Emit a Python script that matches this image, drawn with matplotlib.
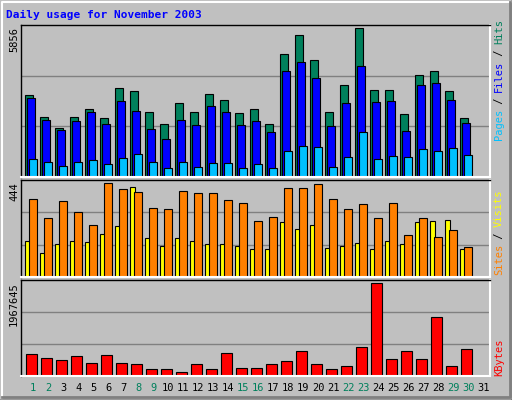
import matplotlib
matplotlib.use("Agg")
import matplotlib.pyplot as plt
import numpy as np
from matplotlib.lines import Line2D

days = list(range(1, 32))
weekend = [1, 2, 8, 9, 15, 16, 22, 23, 29, 30]
hits = [3222, 2383, 1944, 2383, 2663, 2343, 3501, 3381, 2543, 2104, 2902, 2543, 3261, 3022, 2503,
        2663, 2104, 4858, 5577, 4619, 2543, 3621, 5856, 3421, 3421, 2463, 4020, 4180, 3381, 2343]
files = [3102, 2263, 1864, 2224, 2543, 2104, 2982, 2583, 1904, 1505, 2263, 2064, 2782, 2543, 2064,
         2224, 1784, 4180, 4539, 3900, 2024, 2902, 4379, 2942, 2982, 1824, 3621, 3701, 3022, 2144]
pages = [707, 587, 427, 587, 667, 507, 747, 906, 587, 347, 587, 387, 547, 547, 347,
         507, 347, 1026, 1226, 1186, 387, 786, 1784, 707, 826, 786, 1106, 1026, 1146, 866]
sites = [371, 279, 362, 308, 245, 444, 415, 405, 328, 323, 410, 400, 396, 367, 352,
         265, 284, 420, 420, 439, 371, 323, 347, 279, 352, 197, 279, 192, 221, 144]
visits = [173, 115, 158, 173, 168, 202, 241, 429, 187, 149, 187, 173, 158, 158, 149,
          134, 134, 260, 226, 245, 139, 149, 163, 134, 173, 158, 260, 265, 270, 134]
kbytes = [475684, 389196, 345952, 432440, 281086, 454062, 281086, 259464, 151354, 151354,
          86488, 259464, 151354, 497306, 172976, 172976, 259464, 324330, 518928, 259464,
          151354, 216220, 605416, 1967645, 367574, 518928, 367574, 1254076, 216220, 562172]

W, H = 512, 400
fig = plt.figure(figsize=(W/100, H/100), dpi=100, facecolor="#C0C0C0")
mono = "DejaVu Sans Mono"

# bevel frame
fig.add_artist(Line2D([0, 1, 1], [0.5/H, 0.5/H, 1], transform=fig.transFigure, color="black", lw=1))
fig.add_artist(Line2D([1.5/W, 1.5/W, 1 - 1.5/W], [2/H, 1 - 1.5/H, 1 - 1.5/H], transform=fig.transFigure, color="white", lw=1.5))
fig.add_artist(Line2D([2/W, 1 - 2/W, 1 - 2/W], [3/H, 3/H, 1 - 2/H], transform=fig.transFigure, color="#808080", lw=2))

fig.text(6/W, 1 - 15/H, "Daily usage for November 2003", color="#0000FF", fontsize=8,
         fontweight="bold", family=mono, va="center", ha="left")

x0 = 0.733
x1 = x0 + 469/15
d = np.arange(1, len(hits) + 1)

def panel(top_px, bot_px):
    ax = fig.add_axes([21/W, 1 - bot_px/H, 469/W, (bot_px - top_px)/H])
    ax.set_facecolor("#C0C0C0")
    ax.set_xlim(x0, x1)
    ax.set_xticks([]); ax.set_yticks([])
    for s in ax.spines.values():
        s.set_color("black"); s.set_linewidth(1)
    ax.spines["right"].set_color("white"); ax.spines["bottom"].set_color("white")
    ax.spines["right"].set_linewidth(1.5); ax.spines["bottom"].set_linewidth(1.5)
    return ax

kw = dict(edgecolor="black", linewidth=0.8, align="edge")

ax1 = panel(25, 177)
top1 = 5856 * 150 / 146.7
ax1.set_ylim(0, top1)
for g in (top1/3, 2*top1/3):
    ax1.axhline(g, color="#808080", lw=1, zorder=0)
ax1.bar(d, hits, width=0.5, color="#00805C", **kw)
ax1.bar(d + 0.15, files, width=0.49, color="#0000FF", **kw)
ax1.bar(d + 0.29, pages, width=0.49, color="#00C0FF", **kw)

ax2 = panel(180, 277)
top2 = 444 * 95 / 91.7
ax2.set_ylim(0, top2)
for g in (top2/3, 2*top2/3):
    ax2.axhline(g, color="#808080", lw=1, zorder=0)
ax2.bar(d, visits, width=0.3, color="#FFFF00", **kw)
ax2.bar(d + 0.27, sites, width=0.5, color="#FF8000", **kw)

ax3 = panel(280, 376)
top3 = 1967645 * 94 / 91
ax3.set_ylim(0, top3)
for g in (top3/3, 2*top3/3):
    ax3.axhline(g, color="#808080", lw=1, zorder=0)
ax3.bar(d + 0.07, kbytes, width=0.7, color="#FF0000", **kw)

for day in days:
    fig.text((21 + (day + 0.55 - x0) * 15)/W, 1 - 388/H, str(day), fontsize=7.5, family=mono,
             ha="center", va="center", color="#00805C" if day in weekend else "black")

# left max labels
for y, lab in ((27, "5856"), (182, "444"), (282, "1967645")):
    fig.text(14/W, 1 - y/H, lab, rotation=90, fontsize=7.5, family=mono, ha="center", va="top")

def rlabel(parts, ybot):
    y = ybot
    for txt, col in parts:
        t = fig.text(499/W, 1 - y/H, txt, rotation=90, fontsize=7.5, family=mono,
                     ha="center", va="bottom", color=col)
        y -= len(txt) * 6.0

rlabel([("Pages", "#00C0FF"), (" / ", "black"), ("Files", "#0000FF"), (" / ", "black"), ("Hits", "#00805C")], 140)
rlabel([("Sites", "#FF8000"), (" / ", "black"), ("Visits", "#FFFF00")], 275)
rlabel([("KBytes", "#FF0000")], 376)

fig.savefig("out.png", dpi=100, facecolor=fig.get_facecolor())
